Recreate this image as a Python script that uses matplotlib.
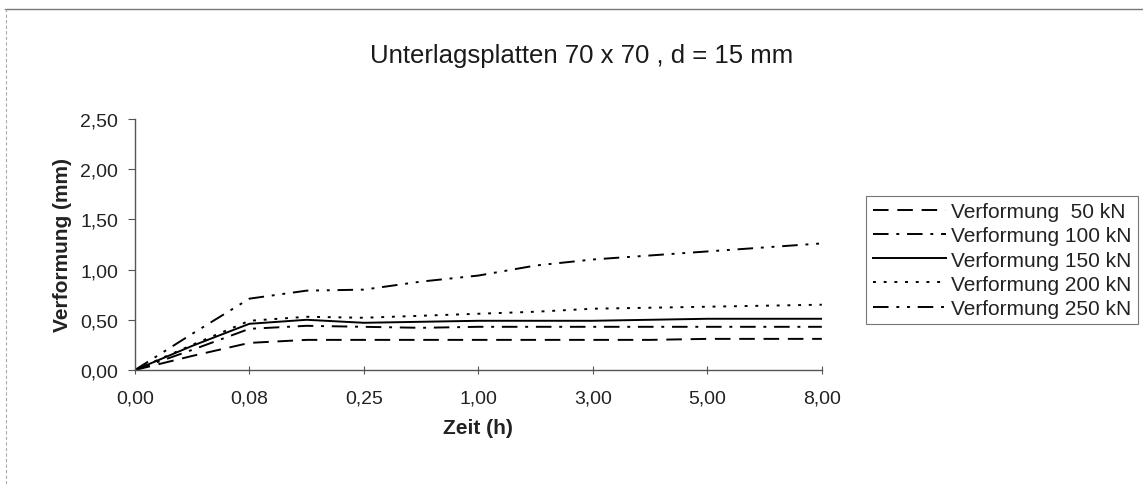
import matplotlib
matplotlib.use('Agg')
import matplotlib.pyplot as plt
import numpy as np

plt.rcParams['font.family'] = ['Liberation Sans', 'DejaVu Sans']

# category labels on the time axis (every second reading is labelled)
time_labels = ['0,00', '0,08', '0,25', '1,00', '3,00', '5,00', '8,00']

# deformation readings (mm), 13 readings each
v50 = [0.00, 0.14, 0.27, 0.30, 0.30, 0.30, 0.30, 0.30, 0.30, 0.30, 0.31, 0.31, 0.31]
v100 = [0.00, 0.20, 0.41, 0.44, 0.43, 0.42, 0.43, 0.43, 0.43, 0.43, 0.43, 0.43, 0.43]
v150 = [0.00, 0.24, 0.46, 0.50, 0.47, 0.48, 0.49, 0.49, 0.49, 0.50, 0.51, 0.51, 0.51]
v200 = [0.00, 0.25, 0.49, 0.53, 0.52, 0.54, 0.56, 0.58, 0.61, 0.62, 0.63, 0.64, 0.65]
v250 = [0.00, 0.36, 0.71, 0.79, 0.80, 0.88, 0.94, 1.04, 1.10, 1.14, 1.18, 1.22, 1.26]

series = [
    ('Verformung  50 kN', v50, (0, (8, 4.5))),
    ('Verformung 100 kN', v100, (0, (8, 4, 1.5, 4))),
    ('Verformung 150 kN', v150, '-'),
    ('Verformung 200 kN', v200, (0, (1.5, 4))),
    ('Verformung 250 kN', v250, (0, (8, 4, 1.5, 4, 1.5, 4))),
]

fig = plt.figure(figsize=(11.43, 4.85), dpi=100)
ax = fig.add_axes([0.118, 0.235, 0.601, 0.518])

x = np.arange(len(v50))
for label, vals, ls in series:
    ax.plot(x, vals, color='black', linestyle=ls, linewidth=1.4, label=label)

ax.set_xlim(0, len(v50) - 1)
ax.set_ylim(0, 2.5)
ax.set_xticks(x[::2])
ax.set_xticklabels(time_labels)
yt = np.arange(0, 2.51, 0.5)
ax.set_yticks(yt)
ax.set_yticklabels([f'{v:.2f}'.replace('.', ',') for v in yt])

for s in ['top', 'right']:
    ax.spines[s].set_visible(False)
for s in ['left', 'bottom']:
    ax.spines[s].set_color('#555555')
    ax.spines[s].set_linewidth(1.0)
ax.tick_params(axis='y', direction='out', length=5, labelsize=14, color='#555555',
               labelcolor='#222222', pad=7)
ax.tick_params(axis='x', direction='inout', length=6, labelsize=14, color='#555555',
               labelcolor='#222222', pad=11)

ax.set_xlabel('Zeit (h)', fontsize=15, fontweight='bold', color='#222222', labelpad=8)
ax.set_ylabel('Verformung (mm)', fontsize=15, fontweight='bold', color='#222222', labelpad=6)

fig.text(0.509, 0.885, 'Unterlagsplatten 70 x 70 , d = 15 mm', ha='center', va='center',
         fontsize=18.5, color='#1a1a1a')

leg = fig.legend(loc='upper left', bbox_to_anchor=(0.758, 0.594), fontsize=15,
                 frameon=True, fancybox=False, edgecolor='#555555', handlelength=3.5,
                 handletextpad=0.25, borderpad=0.3, labelspacing=0.25, borderaxespad=0)
leg.get_frame().set_linewidth(0.8)
for t in leg.get_texts():
    t.set_color('#222222')

# chart area border of the scanned original (top and left edge)
fig.add_artist(plt.Line2D([0.004, 1.0], [0.979, 0.979], transform=fig.transFigure,
                          color='#777777', linewidth=1.0))
fig.add_artist(plt.Line2D([0.005, 0.005], [0.0, 0.979], transform=fig.transFigure,
                          color='#aaaaaa', linewidth=0.8, linestyle=(0, (3, 2))))

fig.savefig('out.png', dpi=100)
